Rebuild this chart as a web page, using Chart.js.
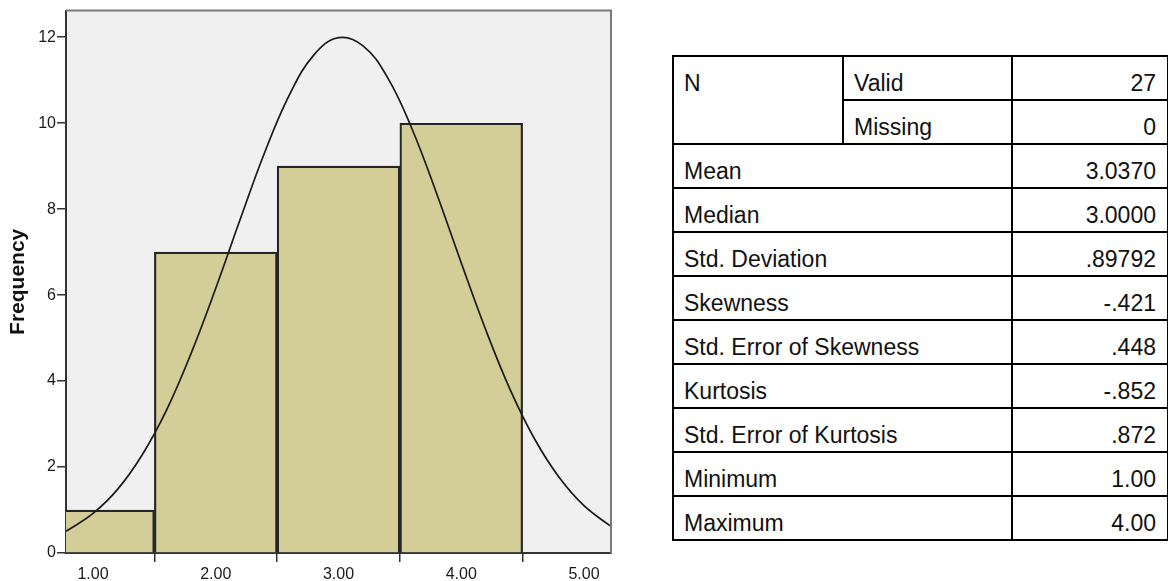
<!DOCTYPE html>
<html>
<head>
<meta charset="utf-8">
<script src="https://cdn.jsdelivr.net/npm/chart.js@4.4.1/dist/chart.umd.min.js"></script>
<style>
  html, body { margin: 0; padding: 0; background: #fff; }
  body { width: 1168px; height: 581px; position: relative; overflow: hidden; }
  #chartBox { position: absolute; left: 0; top: 0; width: 620px; height: 581px; }
  #stats {
    position: absolute; left: 672px; top: 55px; width: 495px;
    border-collapse: collapse; table-layout: fixed;
    font-family: "Liberation Sans", Arial, sans-serif; font-size: 23px; color: #111;
  }
  #stats td {
    border: 2px solid #000; height: 44px; padding: 0 10px 4px 10px;
    vertical-align: bottom; line-height: 23px; box-sizing: border-box;
  }
  #stats td.num { text-align: right; padding-right: 11px; }
</style>
</head>
<body>
<div id="chartBox"><canvas id="histChart"></canvas></div>
<table id="stats"></table>
<script>
// histogram bins (centres) and counts
var binCenters = [1, 2, 3, 4];
var frequencies = [1, 7, 9, 10];

// normal curve
var curveX = [0.78, 0.8, 1.0, 1.2, 1.4, 1.6, 1.8, 2.0, 2.2, 2.4, 2.6, 2.8, 3.0, 3.2, 3.4, 3.6, 3.8, 4.0, 4.2, 4.4, 4.6, 4.8, 5.0, 5.2, 5.22];
var curveY = [0.51, 0.54, 0.92, 1.48, 2.28, 3.33, 4.65, 6.16, 7.77, 9.33, 10.66, 11.59, 11.99, 11.80, 11.06, 9.86, 8.36, 6.75, 5.19, 3.79, 2.64, 1.75, 1.10, 0.66, 0.63];

var xTicks = [1, 2, 3, 4, 5];
var yTicks = [0, 2, 4, 6, 8, 10, 12];

// statistics table
var statNames = ['Mean', 'Median', 'Std. Deviation', 'Skewness', 'Std. Error of Skewness', 'Kurtosis', 'Std. Error of Kurtosis', 'Minimum', 'Maximum'];
var statValues = ['3.0370', '3.0000', '.89792', '-.421', '.448', '-.852', '.872', '1.00', '4.00'];
var nLabels = ['Valid', 'Missing'];
var nValues = ['27', '0'];

var tbl = document.getElementById('stats');
var html = '<colgroup><col style="width:170px"><col style="width:169px"><col style="width:156px"></colgroup>';
html += '<tr><td rowspan="2" style="vertical-align:top;padding-top:15px">N</td><td>' + nLabels[0] + '</td><td class="num">' + nValues[0] + '</td></tr>';
html += '<tr><td>' + nLabels[1] + '</td><td class="num">' + nValues[1] + '</td></tr>';
for (var i = 0; i < statNames.length; i++) {
    html += '<tr><td colspan="2">' + statNames[i] + '</td><td class="num">' + statValues[i] + '</td></tr>';
}
tbl.innerHTML = html;

var plotBg = {
    id: 'plotBg',
    beforeDraw: function (chart) {
        var a = chart.chartArea, c = chart.ctx;
        c.save();
        c.fillStyle = '#f0f0f0';
        c.fillRect(a.left, a.top, a.right - a.left, a.bottom - a.top);
        c.restore();
    },
    afterDraw: function (chart) {
        var a = chart.chartArea, c = chart.ctx;
        c.save();
        c.strokeStyle = '#7a7a7a';
        c.lineWidth = 2;
        c.beginPath();
        c.moveTo(a.left, a.top);
        c.lineTo(a.right, a.top);
        c.lineTo(a.right, a.bottom);
        c.stroke();
        c.restore();
    }
};

var sans = "'Liberation Sans', Arial, sans-serif";

var ctx = document.getElementById('histChart').getContext('2d');
var histChart = new Chart(ctx, {
    type: 'bar',
    data: {
        datasets: [{
            type: 'line',
            data: curveX.map(function (x, i) { return { x: x, y: curveY[i] }; }),
            borderColor: '#1a1a1a',
            borderWidth: 1.7,
            pointRadius: 0,
            tension: 0.4,
            fill: false,
            order: 0
        }, {
            type: 'bar',
            data: binCenters.map(function (x, i) { return { x: x, y: frequencies[i] }; }),
            backgroundColor: '#d3ce98',
            borderColor: '#262626',
            borderWidth: 2.2,
            barPercentage: 1,
            categoryPercentage: 1,
            order: 1
        }]
    },
    options: {
        responsive: true,
        maintainAspectRatio: false,
        animation: false,
        layout: { padding: { top: 6, right: 9, left: 0, bottom: 0 } },
        plugins: { legend: { display: false }, tooltip: { enabled: false } },
        scales: {
            x: {
                type: 'linear',
                min: 0.78,
                max: 5.22,
                offset: false,
                afterBuildTicks: function (s) { s.ticks = xTicks.map(function (v) { return { value: v }; }); },
                afterFit: function (s) { s.height = 28; },
                ticks: {
                    color: '#1a1a1a',
                    padding: 3,
                    maxRotation: 0,
                    font: { family: sans, size: 16 },
                    callback: function (v) { return Number(v).toFixed(2); }
                },
                grid: { drawOnChartArea: false, tickLength: 9, color: '#333', lineWidth: 1.5 },
                border: { color: '#333', width: 2 }
            },
            y: {
                min: 0,
                max: 12.62,
                afterBuildTicks: function (s) { s.ticks = yTicks.map(function (v) { return { value: v }; }); },
                afterFit: function (s) { s.width = 66; },
                ticks: {
                    color: '#1a1a1a',
                    padding: 1,
                    font: { family: sans, size: 16 }
                },
                grid: { drawOnChartArea: false, tickLength: 9, color: '#333', lineWidth: 1.5 },
                border: { color: '#333', width: 2 },
                title: {
                    display: true,
                    text: 'Frequency',
                    color: '#111',
                    padding: { top: 6, bottom: 0 },
                    font: { family: sans, size: 21, weight: 'bold' }
                }
            }
        }
    },
    plugins: [plotBg]
});
</script>
</body>
</html>
